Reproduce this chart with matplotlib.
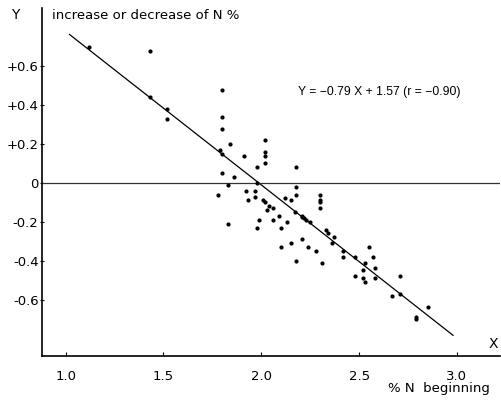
import numpy as np
import matplotlib
matplotlib.use("Agg")
import matplotlib.pyplot as plt

# %N at the beginning (X) and change of N% (Y)
x_start = [1.12, 1.43, 1.43, 1.52, 1.52, 1.80, 1.80, 1.80, 1.84, 1.79,
           1.80, 1.91, 1.80, 1.86, 1.83, 1.78, 1.92, 1.98, 2.02, 2.02,
           2.02, 2.02, 1.98, 1.97, 1.97, 1.93, 2.01, 2.02, 2.04, 2.06,
           2.03, 2.09, 2.06, 1.99, 1.98, 2.10, 2.13, 1.83, 2.18, 2.18,
           2.18, 2.12, 2.15, 2.30, 2.30, 2.30, 2.30, 2.17, 2.21, 2.21,
           2.22, 2.23, 2.25, 2.33, 2.34, 2.37, 2.36, 2.10, 2.15, 2.21,
           2.24, 2.28, 2.18, 2.31, 2.55, 2.42, 2.42, 2.48, 2.53, 2.57,
           2.52, 2.58, 2.48, 2.52, 2.53, 2.58, 2.71, 2.67, 2.71, 2.85,
           2.79, 2.79]
y_change = [0.70, 0.68, 0.44, 0.38, 0.33, 0.48, 0.34, 0.28, 0.20, 0.17,
            0.15, 0.14, 0.05, 0.03, -0.01, -0.06, -0.04, 0.08, 0.22, 0.16,
            0.14, 0.10, 0.00, -0.04, -0.07, -0.09, -0.09, -0.10, -0.12, -0.13,
            -0.14, -0.17, -0.19, -0.19, -0.23, -0.23, -0.20, -0.21, 0.08, -0.02,
            -0.06, -0.08, -0.09, -0.06, -0.09, -0.10, -0.13, -0.15, -0.17, -0.175,
            -0.18, -0.19, -0.20, -0.24, -0.26, -0.28, -0.31, -0.33, -0.31, -0.29,
            -0.33, -0.35, -0.40, -0.41, -0.33, -0.35, -0.38, -0.38, -0.41, -0.38,
            -0.45, -0.44, -0.48, -0.49, -0.51, -0.49, -0.48, -0.58, -0.57, -0.64,
            -0.69, -0.70]

slope, intercept = -0.79, 1.57
fit_x = [1.02, 2.98]

xticks = [1.0, 1.5, 2.0, 2.5, 3.0]
yticks = [0.6, 0.4, 0.2, 0.0, -0.2, -0.4, -0.6]
ylabels = ['+0.6', '+0.4', '+0.2', '0', '-0.2', '-0.4', '-0.6']

plt.rcParams['font.family'] = ['DejaVu Sans']
fig = plt.figure(figsize=(5.01, 4.03), dpi=100)
ax = fig.add_axes([0.084, 0.117, 0.914, 0.863])

ax.scatter(x_start, y_change, s=4, color='black', zorder=3)
ax.plot(fit_x, [slope * v + intercept for v in fit_x], color='black', lw=0.9)
ax.axhline(0, color='#333333', lw=0.9)

ax.set_xlim(0.88, 3.22)
ax.set_ylim(-0.89, 0.90)
ax.spines['top'].set_visible(False)
ax.spines['right'].set_visible(False)
ax.spines['left'].set_linewidth(1.2)
ax.spines['bottom'].set_linewidth(1.2)

ax.set_xticks(xticks)
ax.set_xticklabels(['1.0', '1.5', '2.0', '2.5', '3.0'], fontsize=9.5)
ax.set_yticks(yticks)
ax.set_yticklabels(ylabels, fontsize=9.5)
ax.tick_params(axis='x', direction='in', length=3, pad=10)
ax.tick_params(axis='y', direction='inout', length=3, pad=1)

ax.text(0.022, 0.98, 'increase or decrease of N %', transform=ax.transAxes,
        fontsize=9.5, va='center', ha='left')
fig.text(0.022, 0.962, 'Y', fontsize=10, va='center', ha='left')
ax.text(2.19, 0.47, 'Y = \u22120.79 X + 1.57 (r = \u22120.90)', fontsize=8.7,
        family='Liberation Sans', va='center', ha='left')
ax.text(0.985, 0.035, 'X', transform=ax.transAxes, fontsize=10,
        va='center', ha='center')
fig.text(0.978, 0.02, '% N  beginning', fontsize=9.5, ha='right', va='bottom')

fig.savefig('out.png', dpi=100)
